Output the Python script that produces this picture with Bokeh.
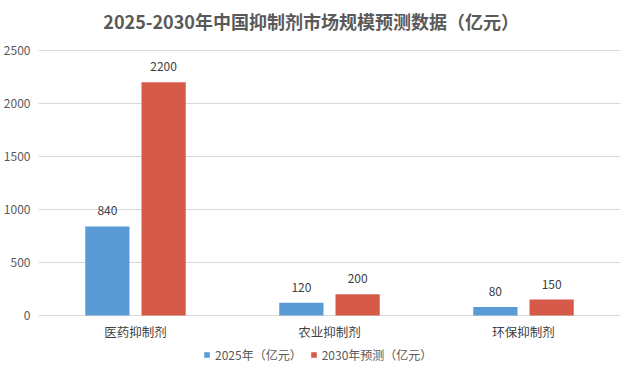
from bokeh.plotting import figure
from bokeh.models import (ColumnDataSource, FactorRange, Range1d, FixedTicker,
                          Legend, LegendItem, LabelSet, Label)
from bokeh.core.properties import value
from bokeh.transform import dodge
from bokeh.embed import file_html
from bokeh.resources import INLINE

title_text = "2025-2030年中国抑制剂市场规模预测数据（亿元）"
categories = ["医药抑制剂", "农业抑制剂", "环保抑制剂"]
series_names = ["2025年（亿元）", "2030年预测（亿元）"]
values_2025 = [840, 120, 80]
values_2030 = [2200, 200, 150]
y_ticks = [0, 500, 1000, 1500, 2000, 2500]

colors = ["#5B9BD5", "#D55B48"]
FONT = "Noto Sans CJK SC"

src = ColumnDataSource(dict(
    cat=categories,
    v1=values_2025,
    v2=values_2030,
    t1=[str(v) for v in values_2025],
    t2=[str(v) for v in values_2030],
    zero=[0, 0, 0],
))

# layout in pixels (inside the figure): value 2500 at 50px, value 0 at 315px
W, H = 628, 363
bot_b = 0
px_per_unit = 265 / 2500
y_top = 2500 + 50 / px_per_unit
y_bottom = -((H - bot_b) - 315) / px_per_unit

p = figure(width=W, height=H, output_backend="svg", toolbar_location=None,
           x_range=FactorRange(factors=categories, range_padding=0),
           y_range=Range1d(y_bottom, y_top), x_axis_location=None,
           min_border_left=35, min_border_right=8, min_border_top=0,
           min_border_bottom=bot_b)
p.outline_line_color = None
p.background_fill_color = "white"
p.border_fill_color = "white"

# title (inside the extended frame)
p.add_layout(Label(x=274 / 195, y=2500 + 30 / px_per_unit, text=title_text,
                   text_align="center", text_baseline="middle",
                   text_font=FONT, text_font_size="18px", text_font_style="bold",
                   text_color="#595959"))

off = 0.145
w = 0.228
r1 = p.vbar(x=dodge("cat", -off, range=p.x_range), top="v1", width=w, source=src,
            fill_color=colors[0], line_color=None)
r2 = p.vbar(x=dodge("cat", off, range=p.x_range), top="v2", width=w, source=src,
            fill_color=colors[1], line_color=None)

for col, tcol, o in (("v1", "t1", -off), ("v2", "t2", off)):
    ls = LabelSet(x=dodge("cat", o, range=p.x_range), y=col, text=tcol, source=src,
                  text_align="center", text_baseline="bottom", y_offset=11,
                  text_font=value(FONT), text_font_size=value("12px"),
                  text_color=value("#404040"))
    p.add_layout(ls)

# category labels under the baseline
p.text(x="cat", y="zero", text="cat", source=src, text_align="center",
       text_baseline="middle", y_offset=16, text_font=value(FONT),
       text_font_size="12.5px", text_color="#404040")

# y axis
p.yaxis.ticker = FixedTicker(ticks=y_ticks)
p.yaxis.axis_line_color = None
p.yaxis.major_tick_line_color = None
p.yaxis.minor_tick_line_color = None
p.yaxis.major_tick_out = 0
p.yaxis.major_tick_in = 0
p.yaxis.major_label_standoff = 8
p.yaxis.major_label_text_font = FONT
p.yaxis.major_label_text_font_size = "12px"
p.yaxis.major_label_text_color = "#595959"

p.xgrid.grid_line_color = None
p.ygrid.grid_line_color = "#d9d9d9"
p.ygrid.ticker = FixedTicker(ticks=y_ticks)

legend = Legend(items=[LegendItem(label=series_names[0], renderers=[r1]),
                       LegendItem(label=series_names[1], renderers=[r2])],
                orientation="horizontal", location=(165, 0),
                glyph_width=7, glyph_height=7, label_standoff=5, spacing=8,
                padding=0, margin=0, border_line_color=None,
                background_fill_alpha=0,
                label_text_font=FONT, label_text_font_size="12px",
                label_text_color="#595959")
p.add_layout(legend)

open("out.html", "w").write(file_html(p, INLINE))
